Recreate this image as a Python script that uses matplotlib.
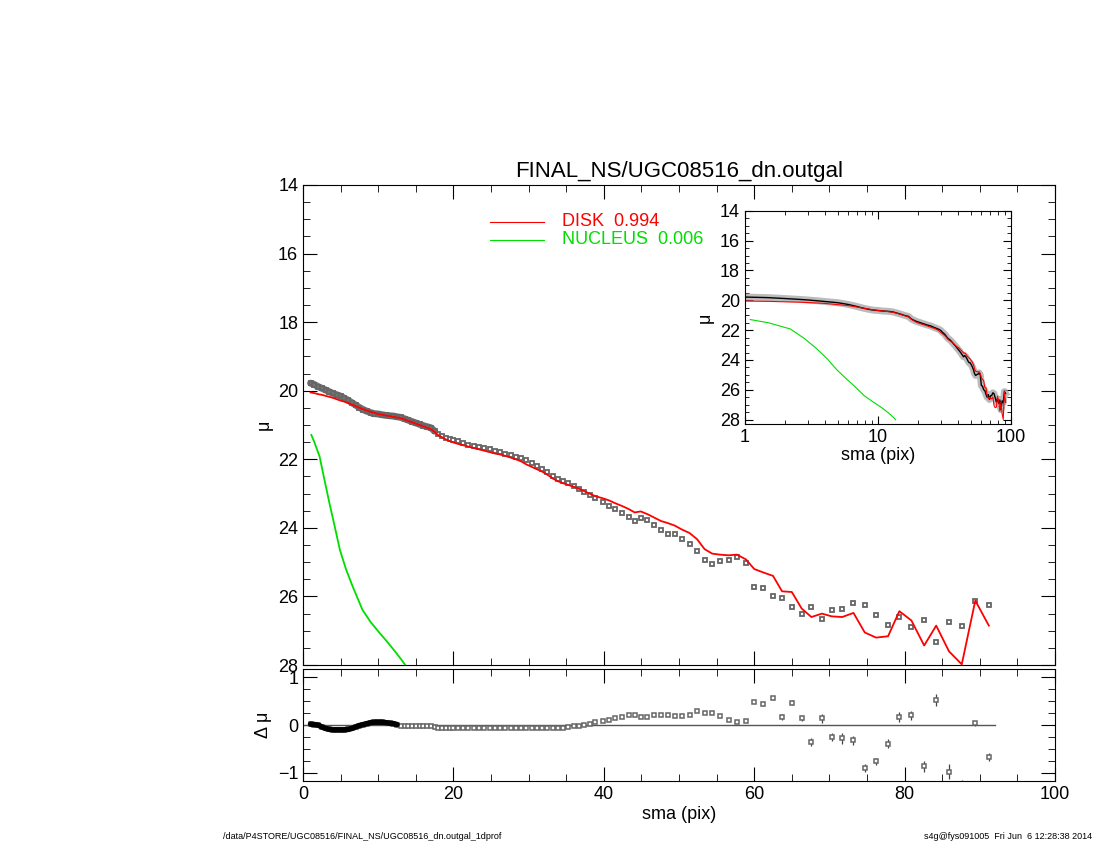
import matplotlib
matplotlib.use("Agg")
import matplotlib.pyplot as plt
from matplotlib.ticker import MultipleLocator
import numpy as np

sma = [1.0,1.5,2,2.5,3,3.5,4,4.5,5,5.5,6,6.5,7,7.5,8,8.5,9,9.5,10,10.5,11,11.5,12,12.5,13,13.5,14,14.5,15,15.5,16,16.5,17,17.5,18,18.5,19,19.5,20,
       20.6,21.3,22.0,22.7,23.4,24.1,24.8,25.5,26.2,26.9,27.6,28.3,29.0,29.7,30.4,31.1,31.8,32.5,33.2,33.9,34.6,35.3,36.0,36.7,37.4,38.1,38.8,
       39.9,40.7,41.5,42.4,43.3,44.1,44.9,45.8,46.7,47.6,48.5,49.4,50.4,51.4,52.4,53.4,54.4,55.4,56.6,57.7,58.9,60.0,61.2,62.5,63.7,65.0,66.3,67.6,69.0,70.3,71.7,73.2,74.7,76.2,77.8,79.3,80.9,82.6,84.2,85.9,87.6,89.4,91.2]
mu_data = [19.78,19.82,19.88,19.93,19.98,20.03,20.08,20.12,20.16,20.22,20.28,20.35,20.42,20.49,20.55,20.6,20.64,20.67,20.68,20.7,20.72,20.73,20.74,20.76,20.78,20.82,20.86,20.9,20.94,20.98,21.02,21.05,21.08,21.18,21.27,21.32,21.37,21.41,21.45,
           21.48,21.53,21.57,21.61,21.65,21.68,21.71,21.75,21.8,21.84,21.88,21.92,21.96,22.02,22.12,22.2,22.27,22.38,22.5,22.58,22.63,22.7,22.78,22.87,22.96,23.03,23.12,
           23.26,23.35,23.45,23.56,23.69,23.79,23.7,23.78,23.91,24.07,24.18,24.18,24.32,24.47,24.66,24.93,25.04,24.98,24.95,24.86,25.01,25.71,25.76,26.0,26.05,26.3,26.5,26.32,26.65,26.4,26.38,26.2,26.26,26.53,26.82,26.59,26.9,26.68,27.33,26.74,26.87,26.12,26.25]
mu_disk = [20.05,20.07,20.1,20.12,20.15,20.18,20.21,20.25,20.29,20.32,20.36,20.4,20.45,20.5,20.54,20.58,20.62,20.65,20.68,20.7,20.72,20.74,20.76,20.78,20.8,20.84,20.88,20.92,20.96,21.0,21.04,21.08,21.12,21.2,21.3,21.36,21.42,21.47,21.51,
           21.55,21.59,21.63,21.67,21.71,21.75,21.79,21.83,21.86,21.9,21.95,22.0,22.06,22.15,22.22,22.29,22.36,22.45,22.56,22.64,22.7,22.75,22.8,22.86,22.93,23.0,23.07,
           23.14,23.2,23.28,23.36,23.45,23.55,23.52,23.6,23.7,23.8,23.86,23.93,24.05,24.15,24.33,24.62,24.75,24.78,24.8,24.78,24.92,25.2,25.3,25.4,25.85,25.87,26.35,26.6,26.5,26.58,26.6,26.48,27.05,27.2,27.16,26.43,26.7,27.43,26.85,27.6,27.98,26.12,26.85]
resid = [0.02,0.01,0.0,-0.04,-0.07,-0.09,-0.1,-0.1,-0.1,-0.1,-0.09,-0.07,-0.04,-0.01,0.01,0.03,0.05,0.06,0.06,0.06,0.05,0.04,0.03,0.01,-0.01,-0.02,-0.02,-0.02,-0.02,-0.02,-0.02,-0.02,-0.03,-0.05,-0.07,-0.07,-0.06,-0.06,-0.06,
         -0.06,-0.06,-0.06,-0.06,-0.06,-0.06,-0.06,-0.06,-0.06,-0.06,-0.07,-0.07,-0.07,-0.07,-0.07,-0.07,-0.07,-0.07,-0.07,-0.06,-0.06,-0.05,-0.03,-0.02,0.0,0.03,0.06,
         0.09,0.11,0.14,0.16,0.2,0.2,0.17,0.17,0.2,0.21,0.2,0.18,0.18,0.22,0.3,0.25,0.26,0.18,0.11,0.06,0.09,0.49,0.43,0.56,0.17,0.47,0.15,-0.35,0.14,-0.25,-0.28,-0.32,-0.89,-0.76,-0.39,0.17,0.2,-0.86,0.52,-0.97,-1.3,0.04,-0.66]
resid_err = [0.0]*66 + [0.01]*21 + [0.03,0.03,0.03,0.06,0.05,0.06,0.08,0.1,0.08,0.12,0.1,0.08,0.08,0.09,0.1,0.1,0.12,0.12,0.15,0.15,0.05,0.08]
sma_nuc = [1.1,1.5,2.2,2.8,3.5,4.2,4.9,5.7,6.6,7.9,9.0,10.2,11.3,12.4,13.0,13.6]
mu_nuc = [21.29,21.5,21.92,22.55,23.27,23.95,24.64,25.2,25.71,26.39,26.75,27.07,27.35,27.65,27.82,28.0]

plt.rcParams['font.family'] = ['Liberation Sans', 'DejaVu Sans']
fig = plt.figure(figsize=(11, 8.5), dpi=100)

def idl(ax):
    ax.tick_params(which='both', direction='in', top=True, right=True, labelsize=13)
    ax.tick_params(which='major', length=10)
    ax.tick_params(which='minor', length=5)

ax = fig.add_axes([0.2755, 0.2176, 0.6836, 0.5648])
ax.plot(sma, mu_data, ls='none', marker='s', ms=3.2, mfc='white', mec='#666666', mew=1.3, zorder=2)
ax.plot(sma[:34], mu_data[:34], color='#666666', lw=5, alpha=0.9, zorder=3, solid_capstyle='round')
ax.plot(sma, mu_disk, color='red', lw=1.3, zorder=4)
ax.plot(sma_nuc, mu_nuc, color='#00dd00', lw=1.3, zorder=4)
ax.set_xlim(0, 100); ax.set_ylim(28.0, 14.0)
ax.xaxis.set_major_locator(MultipleLocator(20)); ax.xaxis.set_minor_locator(MultipleLocator(5))
ax.yaxis.set_major_locator(MultipleLocator(2)); ax.yaxis.set_minor_locator(MultipleLocator(0.5))
ax.set_xticklabels([])
ax.set_ylabel('μ', fontsize=13)
idl(ax)
ax.set_title('FINAL_NS/UGC08516_dn.outgal', fontsize=16, pad=6)
ax.plot([24.8, 32], [15.08, 15.08], color='red', lw=0.8)
ax.plot([24.8, 32], [15.6, 15.6], color='#00dd00', lw=0.8)
ax.text(34.4, 15.08, 'DISK  0.994', color='red', fontsize=13, va='center')
ax.text(34.4, 15.6, 'NUCLEUS  0.006', color='#00dd00', fontsize=13, va='center')

axr = fig.add_axes([0.2755, 0.081, 0.6836, 0.132])
axr.axhline(0, color='#555555', lw=1, xmax=0.92)
axr.errorbar(sma, resid, yerr=resid_err, fmt='s', ms=2.8, mfc='white', mec='#666666', mew=1.1, ecolor='#444444', elinewidth=0.9, zorder=2)
axr.plot(sma[:24], resid[:24], color='black', lw=4, zorder=5, solid_capstyle='round')
axr.set_xlim(0, 100); axr.set_ylim(-1.17, 1.17)
axr.xaxis.set_major_locator(MultipleLocator(20)); axr.xaxis.set_minor_locator(MultipleLocator(5))
axr.yaxis.set_major_locator(MultipleLocator(1)); axr.yaxis.set_minor_locator(MultipleLocator(0.25))
axr.set_xlabel('sma (pix)', fontsize=13, labelpad=2)
axr.set_ylabel('Δ μ', fontsize=13)
idl(axr)

axi = fig.add_axes([0.677, 0.501, 0.242, 0.251])
axi.plot(sma, mu_data, color='#aaaaaa', lw=5, alpha=0.8)
axi.plot(sma, mu_data, color='black', lw=1)
axi.plot(sma, mu_disk, color='red', lw=0.8)
axi.plot(sma_nuc, mu_nuc, color='#00dd00', lw=0.8)
axi.set_xscale('log')
axi.set_xlim(1, 100); axi.set_ylim(28.3, 14.0)
axi.yaxis.set_major_locator(MultipleLocator(2)); axi.yaxis.set_minor_locator(MultipleLocator(0.5))
axi.set_xticks([1, 10, 100]); axi.set_xticklabels(['1', '10', '100'])
axi.set_xlabel('sma (pix)', fontsize=13, labelpad=1)
axi.set_ylabel('μ', fontsize=13)
idl(axi)
axi.tick_params(which='major', length=6); axi.tick_params(which='minor', length=3)

fig.text(0.203, 0.0135, '/data/P4STORE/UGC08516/FINAL_NS/UGC08516_dn.outgal_1dprof', fontsize=6.5)
fig.text(0.993, 0.0135, 's4g@fys091005  Fri Jun  6 12:28:38 2014', fontsize=6.5, ha='right')
fig.savefig('out.png', dpi=100)
